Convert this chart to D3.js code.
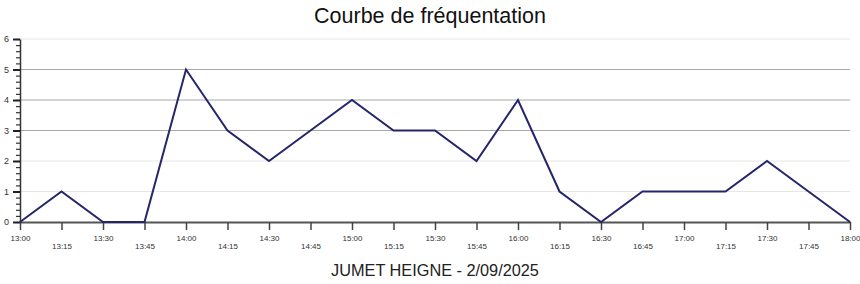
<!DOCTYPE html>
<html>
<head>
<meta charset="utf-8">
<script src="https://cdn.jsdelivr.net/npm/d3@7"></script>
<style>
  body { margin: 0; background: #fff; }
  svg { display: block; font-family: "Liberation Sans", Arial, sans-serif; }
</style>
</head>
<body>
<svg width="860" height="284"></svg>
<script>
// data
var times = ['13:00','13:15','13:30','13:45','14:00','14:15','14:30','14:45','15:00','15:15',
             '15:30','15:45','16:00','16:15','16:30','16:45','17:00','17:15','17:30','17:45','18:00'];
var visits = [0, 1, 0, 0, 5, 3, 2, 3, 4, 3, 3, 2, 4, 1, 0, 1, 1, 1, 2, 1, 0];
var yTicks = [0, 1, 2, 3, 4, 5, 6];
var title = 'Courbe de fréquentation',
    subtitle = 'JUMET HEIGNE - 2/09/2025';

var W = 860, H = 284,
    margin = {left: 20, right: 10, top: 39, bottom: 62},
    root = d3.select('svg');

var x = d3.scalePoint()
      .domain(times)
      .range([margin.left, W - margin.right]),
    y = d3.scaleLinear()
      .domain([0, 6])
      .range([H - margin.bottom, margin.top]);

// gridlines
var darkGrid = {3: 1, 4: 1, 5: 1};
root.append('g')
  .selectAll('line')
  .data(yTicks.filter(function(d) { return d > 0; }))
  .enter()
  .append('line')
  .attr('x1', margin.left)
  .attr('x2', W - margin.right)
  .attr('y1', function(d) { return y(d); })
  .attr('y2', function(d) { return y(d); })
  .attr('stroke', function(d) { return darkGrid[d] ? '#a8a8a8' : '#e6e6e6'; })
  .attr('stroke-width', 1);

// y axis: minor ticks then major ticks
var yMinor = root.append('g')
  .attr('transform', 'translate(' + margin.left + ',0)')
  .call(d3.axisLeft(y).tickValues(d3.range(0, 6.01, 0.2)).tickSize(4).tickFormat(''));
yMinor.select('.domain').remove();
yMinor.selectAll('line').attr('stroke', '#333').attr('stroke-width', 1.2);

var yAxis = root.append('g')
  .attr('transform', 'translate(' + margin.left + ',0)')
  .call(d3.axisLeft(y).tickValues(yTicks).tickSize(7).tickSizeOuter(0).tickPadding(4).tickFormat(d3.format('d')));
yAxis.select('.domain').attr('stroke', '#333').attr('stroke-width', 1.5);
yAxis.selectAll('line').attr('stroke', '#222').attr('stroke-width', 2);
yAxis.selectAll('text').attr('font-size', 9).attr('fill', '#333');

// x axis
var xAxis = root.append('g')
  .attr('transform', 'translate(0,' + y(0) + ')')
  .call(d3.axisBottom(x).tickSize(8).tickSizeOuter(0).tickPadding(4));
xAxis.select('.domain').attr('stroke', '#555').attr('stroke-width', 2);
xAxis.selectAll('line').attr('stroke', '#444').attr('stroke-width', 1.5);
xAxis.selectAll('text')
  .attr('font-size', 8)
  .attr('fill', '#333')
  .attr('dy', function(d, i) { return i % 2 ? '1.9em' : '0.9em'; });

// line
var line = d3.line()
  .x(function(d, i) { return x(times[i]); })
  .y(function(d) { return y(d); });

root.append('path')
  .datum(visits)
  .attr('fill', 'none')
  .attr('stroke', '#25256b')
  .attr('stroke-width', 2)
  .attr('stroke-linejoin', 'miter')
  .attr('d', line);

// titles
root.append('text')
  .attr('x', W / 2)
  .attr('y', 23)
  .attr('text-anchor', 'middle')
  .attr('font-size', 21.5)
  .attr('fill', '#111')
  .text(title);

root.append('text')
  .attr('x', W / 2 + 5)
  .attr('y', 276)
  .attr('text-anchor', 'middle')
  .attr('font-size', 16.3)
  .attr('fill', '#222')
  .text(subtitle);
</script>
</body>
</html>
